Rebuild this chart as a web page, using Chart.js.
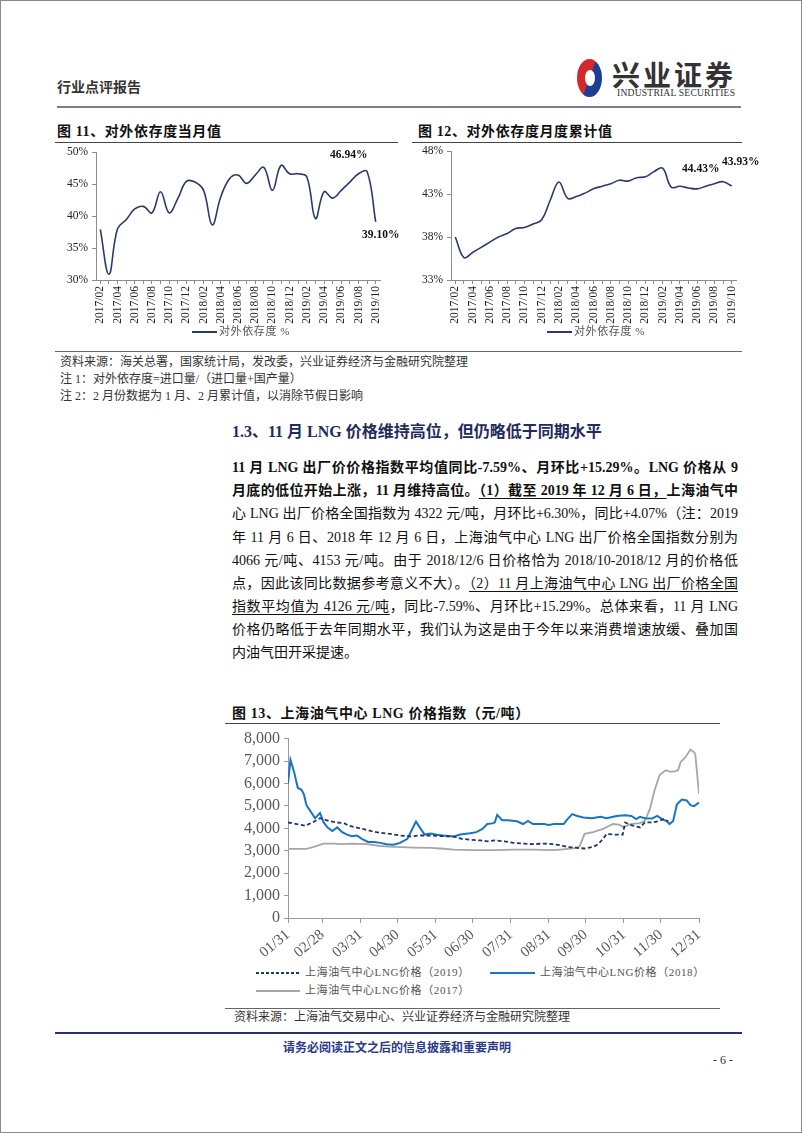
<!DOCTYPE html>
<html>
<head>
<meta charset="utf-8">
<script src="https://cdn.jsdelivr.net/npm/chart.js@4.4.0/dist/chart.umd.min.js"></script>
<style>
html, body { margin: 0; padding: 0; background: #fff; }
#page { position: relative; width: 802px; height: 1133px; overflow: hidden;
  font-family: "Liberation Serif", "Noto Sans CJK SC", serif; color: #111; }
.frame { position: absolute; left: 0; top: 0; right: 0; bottom: 0; border: 1px solid #8a8a8a; pointer-events: none; }
.t { position: absolute; white-space: nowrap; line-height: 1; }
.hr { position: absolute; height: 0; }
.cv { position: absolute; }
.b { font-weight: bold; }
.ft { font-size: 14px; letter-spacing: 0.6px; }
.para { position: absolute; left: 232px; width: 506px; font-size: 14px; line-height: 1;
  white-space: nowrap; text-align: justify; text-align-last: justify; }
.u { text-decoration: underline; text-underline-offset: 3px; text-decoration-thickness: 1px; }
.note { font-size: 12px; color: #333; }
.lg { font-size: 11px; color: #555; letter-spacing: 0.6px; }
</style>
</head>
<body>
<div id="page">
  <!-- header -->
  <div class="t" style="left:57px;top:81px;font-size:14px;font-weight:bold;color:#333;">行业点评报告</div>
  <div style="position:absolute;left:577px;top:59px;width:25px;height:38px;border-radius:50%;background:conic-gradient(from 200deg,#d3282d 0 50%,#1c3f95 50% 100%);"></div>
  <div style="position:absolute;left:585px;top:70px;width:10px;height:16px;border-radius:50%;background:#fff;"></div>
  <div class="t" style="left:612px;top:60px;font-size:28px;font-weight:bold;letter-spacing:3px;color:#333;font-family:'Noto Sans CJK SC';">兴业证券</div>
  <div class="t" style="left:617px;top:88px;font-size:9.6px;color:#333;letter-spacing:0.2px;">INDUSTRIAL SECURITIES</div>
  <div class="hr" style="left:57px;width:684px;top:106px;border-top:2px solid #7b7d8c;"></div>

  <!-- figure 11 / 12 titles -->
  <div class="t b ft" style="left:57px;top:125px;">图 11、对外依存度当月值</div>
  <div class="hr" style="left:55px;width:343px;top:142px;border-top:1.5px solid #444;"></div>
  <div class="t b ft" style="left:418px;top:125px;">图 12、对外依存度月度累计值</div>
  <div class="hr" style="left:412px;width:330px;top:142px;border-top:1.5px solid #444;"></div>

  <canvas id="c11" class="cv" width="345" height="190" style="left:55px;top:140px;"></canvas>
  <canvas id="c12" class="cv" width="345" height="190" style="left:410px;top:140px;"></canvas>

  <div class="t b" style="left:330px;top:149px;font-size:11.5px;">46.94%</div>
  <div class="t b" style="left:362px;top:229px;font-size:11.5px;">39.10%</div>
  <div class="t b" style="left:682px;top:163px;font-size:11.5px;">44.43%</div>
  <div class="t b" style="left:722px;top:156px;font-size:11.5px;">43.93%</div>

  <div class="hr" style="left:192px;width:25px;top:331px;border-top:2px solid #2b3a6b;"></div>
  <div class="t lg" style="left:219px;top:326px;">对外依存度 %</div>
  <div class="hr" style="left:547px;width:25px;top:331px;border-top:2px solid #2b3a6b;"></div>
  <div class="t lg" style="left:574px;top:326px;">对外依存度 %</div>

  <div class="hr" style="left:55px;width:687px;top:351px;border-top:1px solid #666;"></div>
  <div class="t note" style="left:60px;top:356px;">资料来源：海关总署，国家统计局，发改委，兴业证券经济与金融研究院整理</div>
  <div class="t note" style="left:60px;top:373px;">注 1：对外依存度=进口量/（进口量+国产量）</div>
  <div class="t note" style="left:60px;top:390px;">注 2：2 月份数据为 1 月、2 月累计值，以消除节假日影响</div>

  <!-- section -->
  <div class="t b" style="left:232px;top:424px;font-size:16px;color:#252a5e;">1.3、11 月 LNG 价格维持高位，但仍略低于同期水平</div>

  <div class="para b" style="top:461px;">11 月 LNG 出厂价价格指数平均值同比-7.59%、月环比+15.29%。LNG 价格从 9</div>
  <div class="para b" style="top:484px;">月底的低位开始上涨，11 月维持高位。<span class="u">（1）截至 2019 年 12 月 6 日，</span>上海油气中</div>
  <div class="para" style="top:507px;">心 LNG 出厂价格全国指数为 4322 元/吨，月环比+6.30%，同比+4.07%（注：2019</div>
  <div class="para" style="top:531px;">年 11 月 6 日、2018 年 12 月 6 日，上海油气中心 LNG 出厂价格全国指数分别为</div>
  <div class="para" style="top:554px;">4066 元/吨、4153 元/吨。由于 2018/12/6 日价格恰为 2018/10-2018/12 月的价格低</div>
  <div class="para" style="top:577px;">点，因此该同比数据参考意义不大）。<span class="u">（2）11 月上海油气中心 LNG 出厂价格全国</span></div>
  <div class="para" style="top:600px;"><span class="u">指数平均值为 4126 元/吨</span>，同比-7.59%、月环比+15.29%。总体来看，11 月 LNG</div>
  <div class="para" style="top:623px;">价格仍略低于去年同期水平，我们认为这是由于今年以来消费增速放缓、叠加国</div>
  <div class="para" style="top:646px;text-align:left;text-align-last:left;">内油气田开采提速。</div>

  <!-- figure 13 -->
  <div class="t b ft" style="left:232px;top:707px;">图 13、上海油气中心 LNG 价格指数（元/吨）</div>
  <div class="hr" style="left:225px;width:495px;top:723px;border-top:1.5px solid #444;"></div>
  <canvas id="c13" class="cv" width="495" height="240" style="left:225px;top:725px;"></canvas>

  <div style="position:absolute;left:256px;top:972px;width:44px;height:2px;background:repeating-linear-gradient(90deg,#1f3864 0 3px,transparent 3px 5px);"></div>
  <div class="t lg" style="left:305px;top:967px;">上海油气中心LNG价格（2019）</div>
  <div class="hr" style="left:490px;width:45px;top:972px;border-top:2px solid #1874c5;"></div>
  <div class="t lg" style="left:540px;top:967px;">上海油气中心LNG价格（2018）</div>
  <div class="hr" style="left:256px;width:44px;top:990px;border-top:2px solid #a6a6a6;"></div>
  <div class="t lg" style="left:305px;top:985px;">上海油气中心LNG价格（2017）</div>

  <div class="hr" style="left:225px;width:495px;top:1008px;border-top:1px solid #666;"></div>
  <div class="t note" style="left:234px;top:1011px;">资料来源：上海油气交易中心、兴业证券经济与金融研究院整理</div>

  <!-- footer -->
  <div class="hr" style="left:55px;width:687px;top:1032px;border-top:2px solid #2a2f6e;"></div>
  <div class="t b" style="left:283px;top:1042px;font-size:12px;color:#2a3a8a;">请务必阅读正文之后的信息披露和重要声明</div>
  <div class="t" style="left:713px;top:1054px;font-size:12px;color:#333;">- 6 -</div>

  <div class="frame"></div>
</div>

<script>
// Fig 11 / 12 : monthly axis
const monthLabels = [
  '2017/02','2017/03','2017/04','2017/05','2017/06','2017/07','2017/08','2017/09','2017/10','2017/11','2017/12',
  '2018/01','2018/02','2018/03','2018/04','2018/05','2018/06','2018/07','2018/08','2018/09','2018/10','2018/11','2018/12',
  '2019/01','2019/02','2019/03','2019/04','2019/05','2019/06','2019/07','2019/08','2019/09','2019/10'
];

// 对外依存度当月值 (%)
const monthlyDependence = [
  37.9, 30.9, 38.0, 39.4, 41.1, 41.5, 40.5, 43.8, 40.5, 42.7, 45.4,
  45.3, 44.0, 38.6, 43.0, 45.8, 46.4, 45.1, 46.4, 47.6, 44.0, 47.9, 46.6,
  46.6, 46.1, 39.6, 43.8, 42.8, 44.0, 45.3, 46.6, 46.94, 39.10
];

// 对外依存度月度累计值 (%)
const cumulativeDependence = [
  38.0, 35.6, 36.2, 36.8, 37.4, 38.0, 38.4, 39.0, 39.1, 39.5, 40.0,
  42.3, 44.4, 42.5, 42.7, 43.1, 43.6, 43.9, 44.2, 44.6, 44.5, 44.9, 45.0,
  45.6, 46.0, 43.8, 43.9, 43.7, 43.6, 43.9, 44.2, 44.43, 43.93
];

// Fig 13 : day offset from 01/31, price in 元/吨
const lngTickDays = [0, 28, 59, 89, 120, 150, 181, 212, 242, 273, 303, 334];
const lngTickLabels = ['01/31','02/28','03/31','04/30','05/31','06/30','07/31','08/31','09/30','10/31','11/30','12/31'];

const lng2019 = [
  [0,4260],[7,4190],[14,4120],[20,4260],[26,4450],[33,4330],[40,4260],[46,4220],[49,4120],[55,4040],
  [61,3970],[68,3870],[75,3800],[83,3750],[91,3680],[99,3640],[107,3680],[116,3680],[124,3650],[132,3640],
  [137,3610],[141,3530],[148,3490],[156,3460],[162,3420],[168,3460],[176,3420],[183,3350],[191,3320],[199,3290],
  [208,3320],[216,3290],[222,3240],[227,3170],[232,3140],[241,3100],[248,3170],[252,3290],[256,3530],[259,3750],
  [266,3720],[272,3720],[274,4260],[278,4160],[282,4090],[286,4040],[290,4260],[296,4260],[301,4310],[305,4410],
  [309,4320]
];

const lng2018 = [
  [0,6000],[2,7050],[5,6500],[8,5800],[11,5720],[13,5500],[15,5030],[19,4700],[22,4450],[26,4680],
  [29,4260],[32,4040],[36,3880],[40,4040],[44,3830],[48,3720],[52,3650],[56,3680],[60,3530],[65,3390],
  [70,3390],[75,3350],[80,3290],[86,3270],[91,3350],[97,3530],[101,3970],[104,4300],[107,4040],[111,3720],
  [116,3770],[121,3710],[126,3680],[135,3640],[140,3720],[148,3780],[153,3830],[158,3970],[162,4190],[166,4220],
  [168,4260],[170,4600],[174,4360],[179,4360],[186,4310],[191,4190],[195,4330],[199,4190],[208,4190],[212,4150],
  [216,4190],[224,4190],[227,4400],[231,4630],[235,4550],[240,4480],[247,4450],[254,4510],[259,4450],[267,4550],
  [274,4580],[279,4550],[283,4410],[286,4510],[290,4450],[296,4440],[300,4550],[304,4410],[308,4310],[310,4190],
  [313,4330],[316,5060],[320,5280],[324,5240],[327,5030],[330,4990],[334,5150]
];

const lng2017 = [
  [0,3080],[15,3080],[21,3170],[29,3320],[37,3320],[43,3290],[53,3320],[64,3290],[75,3210],[86,3170],
  [102,3140],[116,3130],[124,3100],[135,3050],[151,3030],[167,3030],[183,3050],[199,3050],[216,3030],[221,3050],
  [232,3100],[237,3200],[241,3750],[248,3830],[256,3970],[264,4190],[269,4160],[273,4040],[278,4190],[286,4230],
  [290,4330],[294,4840],[298,5720],[302,6370],[307,6590],[311,6520],[315,6550],[317,6590],[319,6950],[323,7170],
  [327,7510],[330,7390],[331,7300],[334,5550]
];

Chart.defaults.font.family = '"Liberation Serif", "Noto Sans CJK SC", serif';
Chart.defaults.animation = false;

// Render dependence chart (fig 11 / 12)
function renderDependence(id, values, yMin, yMax, yWidth, padTop, padRight) {
    const ctx = document.getElementById(id);
    return new Chart(ctx.getContext('2d'), {
        type: 'line',
        data: {
            labels: monthLabels,
            datasets: [{
                data: values,
                borderColor: '#2b3a6b',
                borderWidth: 1.6,
                tension: 0.4,
                pointRadius: 0,
                fill: false
            }]
        },
        options: {
            responsive: false,
            devicePixelRatio: 1,
            layout: { padding: { top: padTop, right: padRight, left: 0, bottom: 0 } },
            plugins: { legend: { display: false }, tooltip: { enabled: false } },
            scales: {
                x: {
                    offset: true,
                    border: { color: '#8c8c8c' },
                    grid: { display: true, drawOnChartArea: false, tickLength: 4, color: '#8c8c8c' },
                    ticks: {
                        autoSkip: false,
                        minRotation: 90,
                        maxRotation: 90,
                        padding: 2,
                        color: '#222',
                        font: { size: 11.5 },
                        callback: (v, i) => (i % 2 === 0 ? monthLabels[i] : '')
                    },
                    afterFit: s => { s.height = 50; }
                },
                y: {
                    min: yMin,
                    max: yMax,
                    border: { color: '#8c8c8c' },
                    grid: { display: true, drawOnChartArea: false, tickLength: 4, color: '#8c8c8c' },
                    ticks: {
                        stepSize: 5,
                        padding: 4,
                        color: '#222',
                        font: { size: 11.5 },
                        callback: v => v + '%'
                    },
                    afterFit: s => { s.width = yWidth; }
                }
            }
        }
    });
}

renderDependence('c11', monthlyDependence, 30, 50, 41, 12, 20);
renderDependence('c12', cumulativeDependence, 33, 48, 41, 11, 19);

// Render LNG price chart (fig 13)
function toPoints(pairs) {
    return pairs.map(([d, v]) => ({ x: d, y: v }));
}

new Chart(document.getElementById('c13').getContext('2d'), {
    type: 'line',
    data: {
        datasets: [
            {
                label: '上海油气中心LNG价格（2019）',
                data: toPoints(lng2019),
                borderColor: '#1f3864',
                borderWidth: 1.8,
                borderDash: [4, 2.5],
                pointRadius: 0,
                tension: 0
            },
            {
                label: '上海油气中心LNG价格（2018）',
                data: toPoints(lng2018),
                borderColor: '#1874c5',
                borderWidth: 2,
                pointRadius: 0,
                tension: 0
            },
            {
                label: '上海油气中心LNG价格（2017）',
                data: toPoints(lng2017),
                borderColor: '#a6a6a6',
                borderWidth: 1.8,
                pointRadius: 0,
                tension: 0
            }
        ]
    },
    options: {
        responsive: false,
        devicePixelRatio: 1,
        layout: { padding: { top: 9, right: 21, left: 0, bottom: 0 } },
        plugins: { legend: { display: false }, tooltip: { enabled: false } },
        scales: {
            x: {
                type: 'linear',
                min: 0,
                max: 334,
                border: { color: '#9a9a9a' },
                grid: { display: true, drawOnChartArea: false, tickLength: 5, color: '#9a9a9a' },
                afterBuildTicks: s => { s.ticks = lngTickDays.map(v => ({ value: v })); },
                ticks: {
                    autoSkip: false,
                    minRotation: 40,
                    maxRotation: 40,
                    padding: 3,
                    color: '#595959',
                    font: { size: 15 },
                    callback: v => lngTickLabels[lngTickDays.indexOf(v)]
                },
                afterFit: s => { s.height = 47; }
            },
            y: {
                min: 0,
                max: 8000,
                border: { color: '#9a9a9a' },
                grid: { display: true, drawOnChartArea: false, tickLength: 4, color: '#9a9a9a' },
                ticks: {
                    stepSize: 1000,
                    padding: 4,
                    color: '#595959',
                    font: { size: 16 },
                    callback: v => v.toLocaleString('en-US')
                },
                afterFit: s => { s.width = 63; }
            }
        }
    }
});
</script>
</body>
</html>
